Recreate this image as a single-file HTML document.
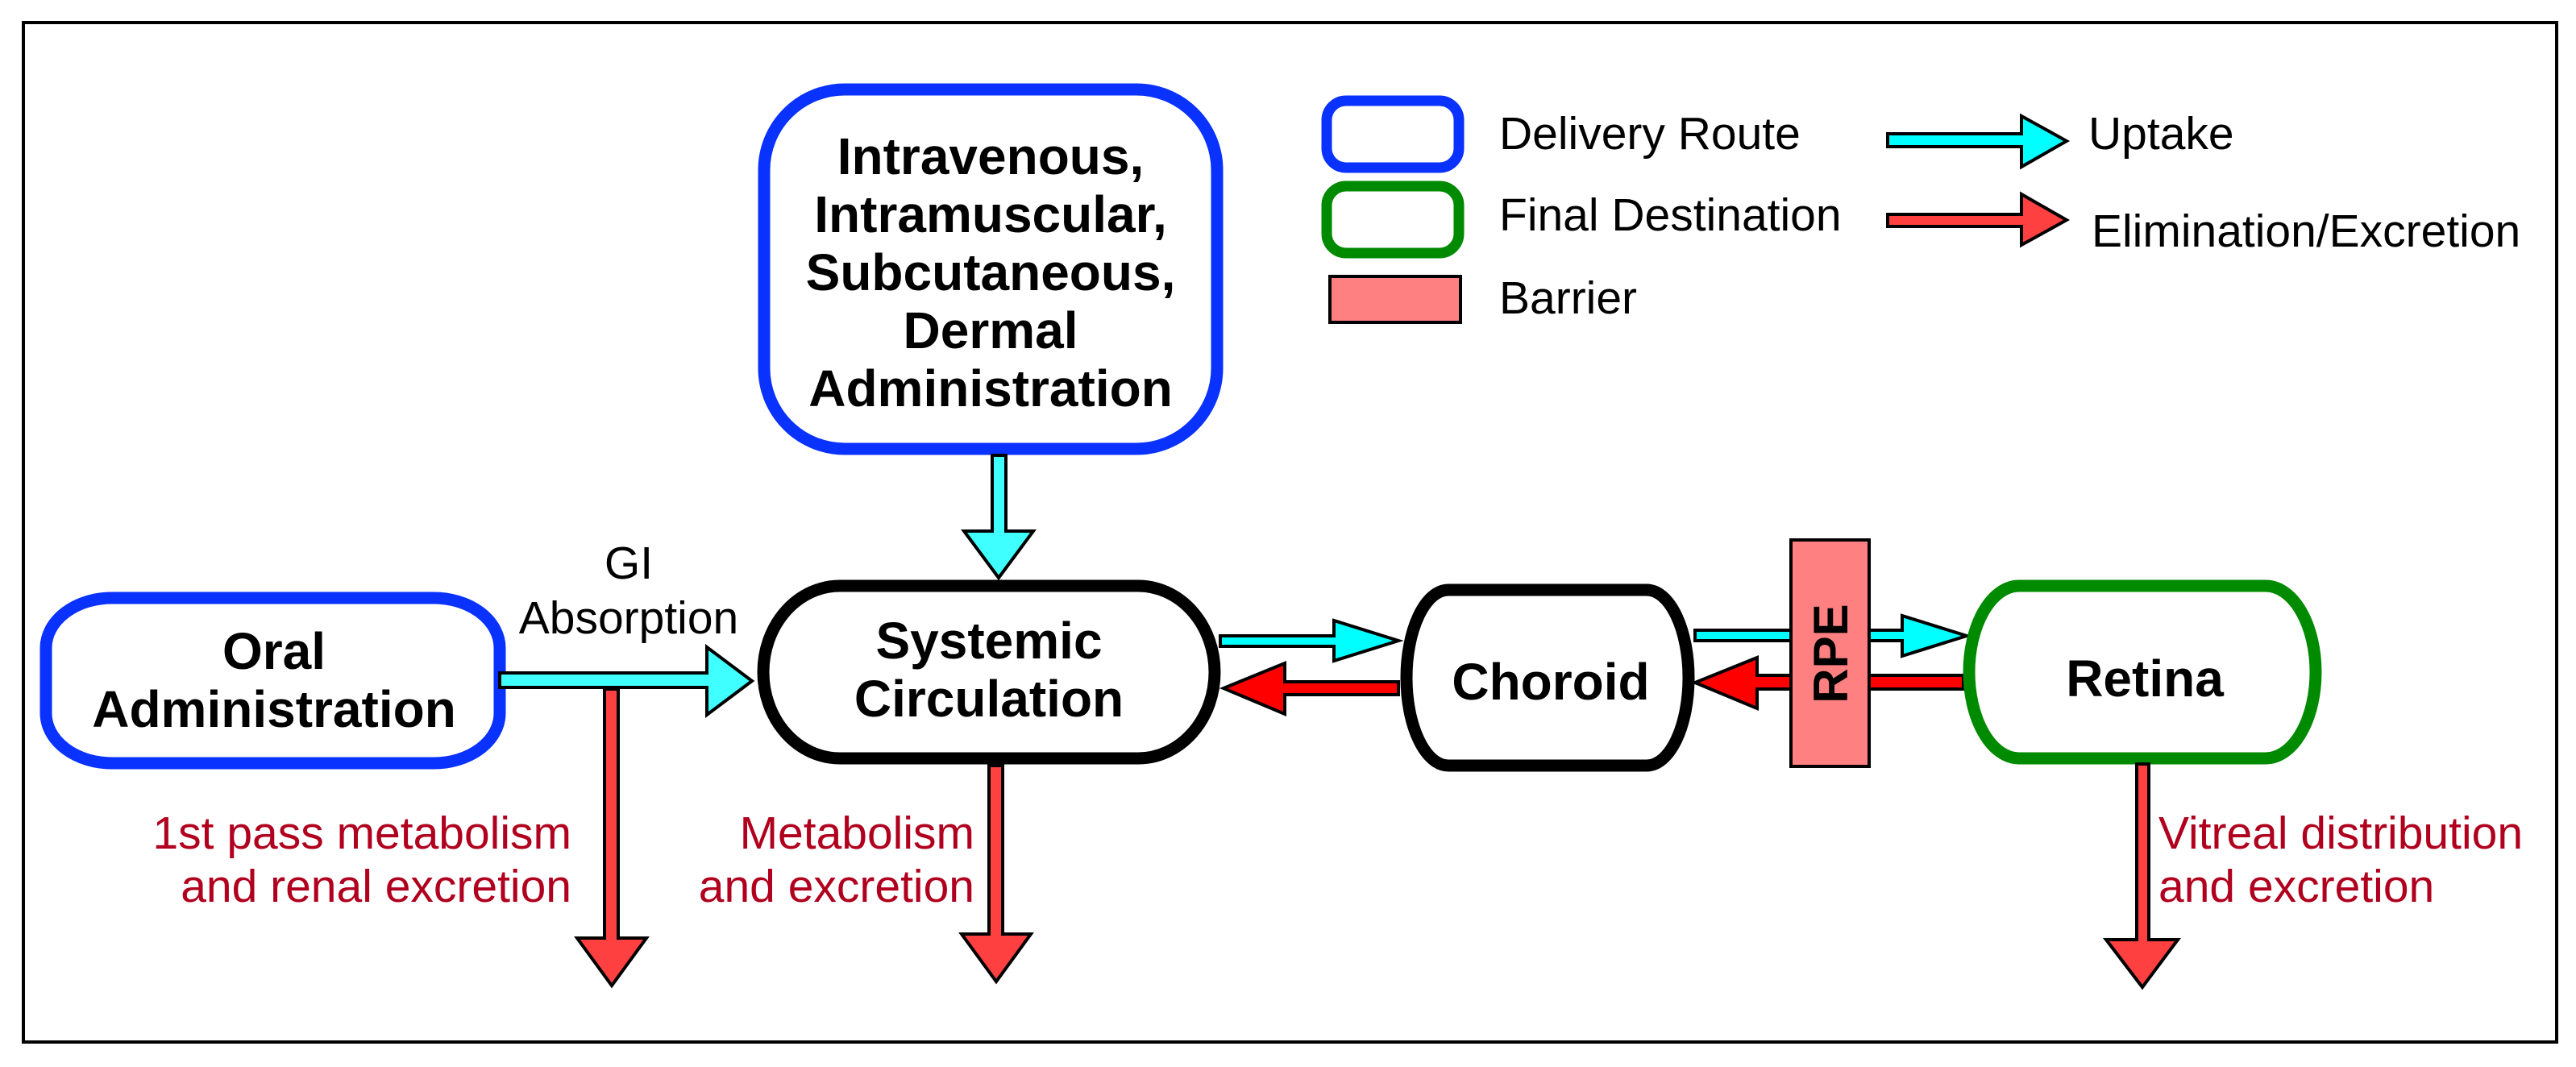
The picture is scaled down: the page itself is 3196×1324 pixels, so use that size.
<!DOCTYPE html>
<html><head><meta charset="utf-8"><style>html,body{margin:0;padding:0;background:#fff}svg{display:block}</style></head>
<body>
<svg width="3196" height="1324" viewBox="0 0 3196 1324" xmlns="http://www.w3.org/2000/svg" font-family="Liberation Sans, Arial, sans-serif">
<rect x="29" y="28" width="3143" height="1265" fill="#fff" stroke="#000" stroke-width="4"/>

<!-- IV box -->
<rect x="948" y="111" width="562" height="446" rx="100" ry="100" fill="#fff" stroke="#0a32ff" stroke-width="15"/>
<g font-weight="bold" font-size="64" text-anchor="middle" fill="#000">
<text x="1229" y="216">Intravenous,</text>
<text x="1229" y="288">Intramuscular,</text>
<text x="1229" y="360">Subcutaneous,</text>
<text x="1229" y="432">Dermal</text>
<text x="1229" y="504">Administration</text>
</g>

<!-- Oral box -->
<rect x="57" y="742" width="563" height="205" rx="82" ry="62" fill="#fff" stroke="#0a32ff" stroke-width="15"/>
<g font-weight="bold" font-size="64" text-anchor="middle">
<text x="340" y="830">Oral</text>
<text x="340" y="902">Administration</text>
</g>

<!-- GI absorption -->
<g font-size="57" text-anchor="middle">
<text x="780" y="718">GI</text>
<text x="780" y="786">Absorption</text>
</g>

<!-- cyan arrow oral -> systemic -->
<polygon points="620,835 877,835 877,803 933,845 877,887 877,853 620,853" fill="#40ffff" stroke="#000" stroke-width="4" stroke-linejoin="miter"/>

<!-- red arrow down from oral -->
<polygon points="750,855 767,855 767,1164 802,1164 759,1223 716,1164 750,1164" fill="#ff4040" stroke="#000" stroke-width="4"/>
<g font-size="57" fill="#b0001e" text-anchor="end">
<text x="709" y="1053">1st pass metabolism</text>
<text x="709" y="1119">and renal excretion</text>
</g>

<!-- cyan arrow IV -> systemic -->
<polygon points="1231,565 1248,565 1248,659 1282,659 1239,717 1196,659 1231,659" fill="#40ffff" stroke="#000" stroke-width="4"/>

<!-- systemic -->
<rect x="947" y="727" width="560" height="214" rx="95" ry="107" fill="#fff" stroke="#000" stroke-width="15"/>
<g font-weight="bold" font-size="64" text-anchor="middle">
<text x="1227" y="817">Systemic</text>
<text x="1227" y="889">Circulation</text>
</g>

<!-- red arrow down from systemic -->
<polygon points="1227,950 1244,950 1244,1159 1279,1159 1236,1218 1193,1159 1227,1159" fill="#ff4040" stroke="#000" stroke-width="4"/>
<g font-size="57" fill="#b0001e" text-anchor="end">
<text x="1209" y="1053">Metabolism</text>
<text x="1209" y="1119">and excretion</text>
</g>

<!-- cyan systemic -> choroid -->
<polygon points="1514,789 1655,789 1655,770 1735,795 1655,820 1655,802 1514,802" fill="#00ffff" stroke="#000" stroke-width="4"/>
<!-- red choroid -> systemic -->
<polygon points="1735,846 1594,846 1594,823 1518,854 1594,886 1594,862 1735,862" fill="#ff0000" stroke="#000" stroke-width="4"/>

<!-- choroid -->
<rect x="1745" y="732" width="350" height="218" rx="52" ry="109" fill="#fff" stroke="#000" stroke-width="15"/>
<text x="1924" y="868" font-weight="bold" font-size="64" text-anchor="middle">Choroid</text>

<!-- cyan choroid -> retina -->
<polygon points="2103,782 2360,782 2360,764 2440,789 2360,814 2360,795 2103,795" fill="#00ffff" stroke="#000" stroke-width="4"/>
<!-- red retina -> choroid -->
<polygon points="2436,838 2180,838 2180,816 2103,847 2180,879 2180,855 2436,855" fill="#ff0000" stroke="#000" stroke-width="4"/>

<!-- RPE -->
<rect x="2222" y="670" width="97" height="281" fill="#ff8080" stroke="#000" stroke-width="4"/>
<text transform="translate(2292,811) rotate(-90)" font-weight="bold" font-size="60" text-anchor="middle">RPE</text>

<!-- retina -->
<rect x="2443" y="727" width="430" height="214" rx="62" ry="107" fill="#fff" stroke="#008a00" stroke-width="15"/>
<text x="2661" y="864" font-weight="bold" font-size="64" text-anchor="middle">Retina</text>

<!-- red down retina -->
<polygon points="2651,948 2666,948 2666,1166 2702,1166 2658,1225 2613,1166 2651,1166" fill="#ff4040" stroke="#000" stroke-width="4"/>
<g font-size="57" fill="#b0001e">
<text x="2678" y="1053">Vitreal distribution</text>
<text x="2678" y="1119">and excretion</text>
</g>

<!-- legend -->
<rect x="1646" y="125" width="164" height="83" rx="24" ry="24" fill="#fff" stroke="#0a32ff" stroke-width="13"/>
<rect x="1646" y="231" width="164" height="83" rx="24" ry="24" fill="#fff" stroke="#008a00" stroke-width="13"/>
<rect x="1650" y="343" width="162" height="57" fill="#ff8080" stroke="#000" stroke-width="4"/>
<g font-size="57">
<text x="1860" y="185">Delivery Route</text>
<text x="1860" y="286">Final Destination</text>
<text x="1860" y="389">Barrier</text>
<text x="2591" y="185">Uptake</text>
<text x="2595" y="306">Elimination/Excretion</text>
</g>
<polygon points="2342,166 2508,166 2508,144 2564,175 2508,207 2508,182 2342,182" fill="#00ffff" stroke="#000" stroke-width="4"/>
<polygon points="2342,266 2508,266 2508,241 2564,273 2508,304 2508,281 2342,281" fill="#ff4040" stroke="#000" stroke-width="4"/>
</svg>
</body></html>
